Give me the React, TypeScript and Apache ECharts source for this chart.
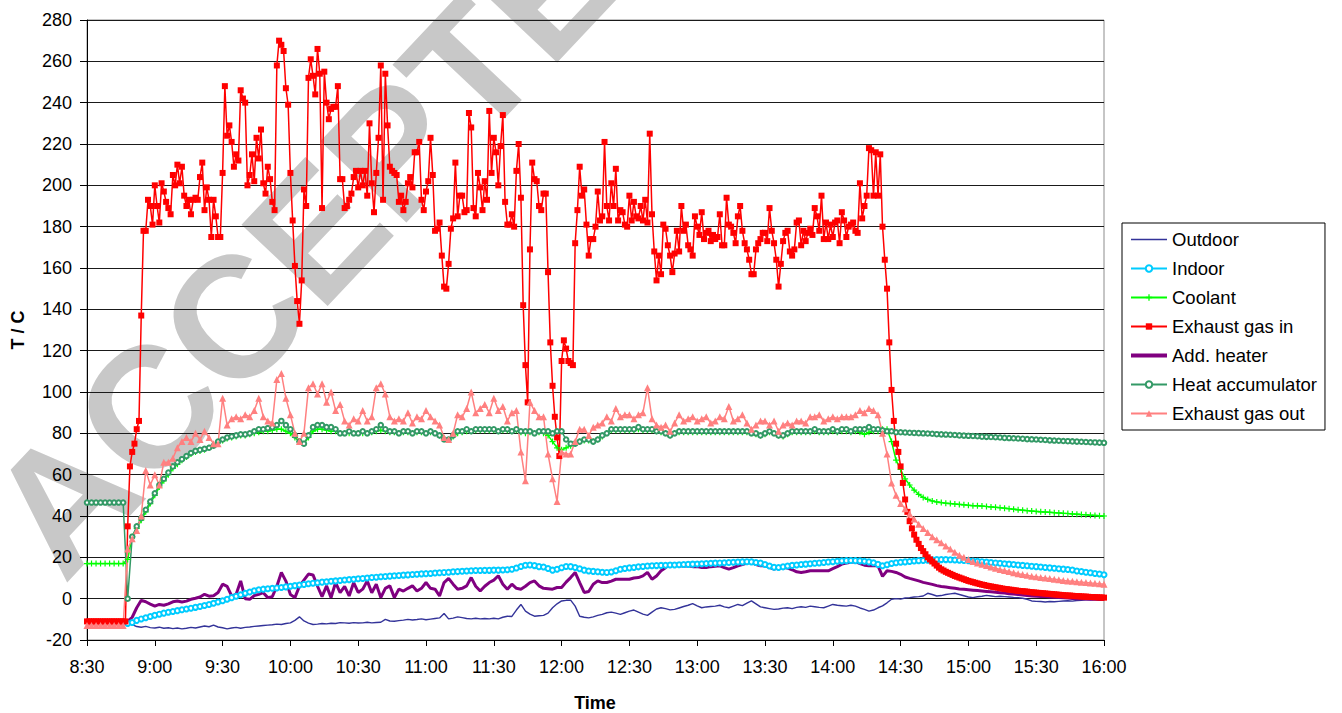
import React, { useEffect, useRef } from "react";
import * as echarts from "echarts";

// minutes after 8:30; x ticks every 30 minutes
const X_MIN = 0;
const X_MAX = 450;
const X_STEP = 30;
const Y_MIN = -20;
const Y_MAX = 280;
const Y_STEP = 20;

// Exhaust gas in: one reading per minute from 8:30
const exhaustInStart = 0;
const exhaustInStep = 1;
const exhaustIn = [
  /* 8:30 */ -11, -11, -11, -11, -11, -11, -11, -11, -11, -11,
  /* 8:40 */ -11, -11, -11, -11, -11, -11, -11, -11, 35, 64,
  /* 8:50 */ 71, 75, 82, 86, 137, 178, 178, 193, 190, 181,
  /* 9:00 */ 200, 190, 182, 201, 197, 192, 189, 186, 205, 200,
  /* 9:10 */ 210, 201, 209, 195, 190, 193, 186, 193, 194, 193,
  /* 9:20 */ 204, 211, 188, 199, 193, 175, 193, 185, 175, 175,
  /* 9:30 */ 206, 248, 224, 229, 221, 209, 215, 212, 246, 242,
  /* 9:40 */ 240, 200, 205, 215, 202, 223, 213, 227, 201, 196,
  /* 9:50 */ 209, 203, 192, 188, 258, 270, 268, 265, 247, 239,
  /* 10:00 */ 206, 183, 161, 144, 133, 154, 198, 190, 252, 261,
  /* 10:10 */ 253, 244, 266, 254, 189, 255, 240, 232, 237, 238,
  /* 10:20 */ 238, 248, 203, 203, 189, 190, 193, 196, 204, 207,
  /* 10:30 */ 199, 207, 200, 207, 195, 230, 201, 187, 206, 223,
  /* 10:40 */ 258, 193, 254, 229, 209, 207, 206, 205, 192, 195,
  /* 10:50 */ 188, 192, 201, 204, 199, 216, 216, 221, 193, 188,
  /* 11:00 */ 197, 202, 223, 205, 178, 179, 182, 166, 151, 150,
  /* 11:10 */ 162, 179, 184, 211, 185, 195, 195, 187, 188, 235,
  /* 11:20 */ 228, 189, 185, 206, 199, 188, 202, 193, 236, 206,
  /* 11:30 */ 223, 216, 200, 219, 234, 192, 181, 181, 186, 180,
  /* 11:40 */ 207, 220, 194, 142, 113, 95, 169, 211, 203, 202,
  /* 11:50 */ 190, 188, 196, 196, 158, 124, 103, 88, 78, 69,
  /* 12:00 */ 115, 125, 121, 115, 114, 113, 172, 188, 209, 195,
  /* 12:10 */ 198, 181, 166, 174, 174, 180, 197, 183, 185, 221,
  /* 12:20 */ 190, 183, 201, 190, 208, 183, 188, 187, 181, 180,
  /* 12:30 */ 195, 183, 192, 185, 184, 190, 183, 193, 182, 225,
  /* 12:40 */ 186, 168, 154, 166, 157, 181, 179, 171, 166, 158,
  /* 12:50 */ 167, 178, 168, 190, 178, 181, 171, 169, 166, 185,
  /* 13:00 */ 180, 176, 187, 174, 177, 178, 173, 176, 174, 175,
  /* 13:10 */ 186, 171, 171, 194, 181, 180, 177, 172, 185, 190,
  /* 13:20 */ 178, 172, 169, 164, 157, 157, 169, 172, 174, 177,
  /* 13:30 */ 177, 173, 189, 178, 172, 164, 151, 162, 173, 177,
  /* 13:40 */ 178, 168, 166, 169, 182, 183, 171, 178, 173, 177,
  /* 13:50 */ 179, 176, 189, 185, 178, 195, 174, 182, 174, 181,
  /* 14:00 */ 175, 182, 183, 172, 187, 183, 175, 180, 181, 182,
  /* 14:10 */ 178, 177, 201, 184, 190, 195, 218, 217, 195, 216,
  /* 14:20 */ 195, 215, 180, 164, 150, 124, 101, 86, 75, 71,
  /* 14:30 */ 64, 56, 48, 42, 37.5, 34, 31, 28.5, 26.5, 24.5,
  /* 14:40 */ 23, 21.5, 20, 19, 18, 17, 16, 15, 14.2, 13.6,
  /* 14:50 */ 13, 12.5, 12, 11.5, 11, 10.6, 10.2, 9.8, 9.4, 9,
  /* 15:00 */ 8.6, 8.3, 8, 7.7, 7.4, 7.1, 6.8, 6.6, 6.3, 6.1,
  /* 15:10 */ 5.9, 5.7, 5.5, 5.3, 5.1, 4.9, 4.7, 4.6, 4.4, 4.3,
  /* 15:20 */ 4.1, 4, 3.8, 3.7, 3.6, 3.5, 3.4, 3.2, 3.1, 3,
  /* 15:30 */ 2.9, 2.8, 2.7, 2.6, 2.5, 2.4, 2.3, 2.2, 2.1, 2,
  /* 15:40 */ 1.9, 1.8, 1.7, 1.6, 1.5, 1.5, 1.4, 1.3, 1.2, 1.2,
  /* 15:50 */ 1.1, 1, 1, 0.9, 0.8, 0.8, 0.7, 0.7, 0.6, 0.6,
  /* 16:00 */ 0.5,
];

// Exhaust gas out: every 2 minutes from 8:30
const exhaustOutStart = 0;
const exhaustOutStep = 2;
const exhaustOut = [
  /* 8:30 */ -13, -13, -13, -13, -13, -13, -13, -13, -13, 24,
  /* 8:50 */ 29, 33, 40, 62, 55, 60, 55, 66, 66, 68,
  /* 9:10 */ 73, 76, 78, 76, 80, 77, 81, 78, 75, 75,
  /* 9:30 */ 97, 84, 87, 88, 87, 89, 88, 91, 97, 88,
  /* 9:50 */ 86, 85, 106, 109, 97, 89, 80, 76, 80, 102,
  /* 10:10 */ 104, 99, 104, 95, 100, 91, 94, 86, 84, 87,
  /* 10:30 */ 86, 91, 86, 88, 102, 104, 99, 88, 86, 87,
  /* 10:50 */ 86, 90, 85, 88, 87, 91, 88, 86, 84, 78,
  /* 11:10 */ 77, 80, 89, 88, 92, 100, 90, 92, 94, 90,
  /* 11:30 */ 97, 91, 93, 86, 90, 91, 71, 57, 95, 91,
  /* 11:50 */ 88, 88, 70, 58, 47, 71, 70, 70, 76, 82,
  /* 12:10 */ 82, 79, 83, 84, 85, 88, 86, 92, 88, 89,
  /* 12:30 */ 89, 87, 89, 90, 102, 87, 84, 83, 84, 81,
  /* 12:50 */ 85, 89, 86, 87, 88, 86, 87, 88, 85, 86,
  /* 13:10 */ 88, 87, 93, 86, 87, 89, 85, 82, 84, 86,
  /* 13:30 */ 86, 84, 86, 81, 84, 85, 84, 86, 86, 85,
  /* 13:50 */ 88, 88, 89, 86, 87, 88, 87, 88, 88, 88,
  /* 14:10 */ 89, 91, 90, 92, 91, 89, 80, 70, 56, 50,
  /* 14:30 */ 46, 43.5, 41, 38.5, 36, 34, 32, 30, 28.5, 27,
  /* 14:50 */ 25.5, 24, 22.5, 21, 20, 19, 18, 17.3, 16.6, 16,
  /* 15:10 */ 15.3, 14.7, 14.1, 13.6, 13.1, 12.6, 12.1, 11.7, 11.3, 10.9,
  /* 15:30 */ 10.6, 10.3, 10, 9.7, 9.4, 9.1, 8.8, 8.6, 8.4, 8.2,
  /* 15:50 */ 8, 7.8, 7.6, 7.4, 7.2, 7,
];

// Heat accumulator: every 2 minutes from 8:30
const heatAccStart = 0;
const heatAccStep = 2;
const heatAccumulator = [
  /* 8:30 */ 46.5, 46.5, 46.5, 46.5, 46.5, 46.5, 46.5, 46.5, 46.5, 0,
  /* 8:50 */ 30, 35, 39, 43, 47, 51, 55, 58, 61, 64,
  /* 9:10 */ 66, 67.5, 69, 70.5, 71.5, 72, 72.5, 73, 74, 76,
  /* 9:30 */ 77, 78, 78.5, 79, 79.5, 79.5, 80, 81, 82, 82,
  /* 9:50 */ 82.5, 83, 84, 86, 84, 82, 79, 76, 75, 79,
  /* 10:10 */ 83, 84, 84, 83, 83, 82, 80, 80, 81, 80,
  /* 10:30 */ 80, 81, 80, 81, 82, 84, 82, 81, 81, 80,
  /* 10:50 */ 81, 81, 80, 81, 81, 80, 81, 80, 79, 77,
  /* 11:10 */ 77, 79, 81, 81, 82, 81, 82, 82, 82, 82,
  /* 11:30 */ 82, 81, 82, 82, 81, 82, 81, 81, 81, 80,
  /* 11:50 */ 81, 81, 81, 80, 81, 81, 77, 75, 75, 76,
  /* 12:10 */ 77, 77, 76, 77, 79, 80, 82, 82, 82, 82,
  /* 12:30 */ 82, 82, 83, 82, 82, 82, 81, 81, 80, 79,
  /* 12:50 */ 80, 81, 81, 81, 81, 81, 81, 81, 81, 81,
  /* 13:10 */ 81, 81, 81, 81, 81, 81, 81, 80, 80, 79,
  /* 13:30 */ 80, 81, 80, 79, 79, 80, 81, 81, 81, 81,
  /* 13:50 */ 81, 82, 81, 81, 81, 82, 81, 82, 82, 81,
  /* 14:10 */ 82, 82, 82, 83, 82, 82, 81.5, 81, 81, 80.5,
  /* 14:30 */ 80.5, 80.4, 80.3, 80.2, 80.1, 80, 79.9, 79.8, 79.6, 79.5,
  /* 14:50 */ 79.4, 79.3, 79.2, 79, 78.9, 78.8, 78.7, 78.6, 78.4, 78.3,
  /* 15:10 */ 78.2, 78.1, 78, 77.8, 77.7, 77.6, 77.5, 77.4, 77.2, 77.1,
  /* 15:30 */ 77, 76.9, 76.8, 76.6, 76.5, 76.4, 76.3, 76.2, 76.1, 76,
  /* 15:50 */ 75.9, 75.8, 75.7, 75.6, 75.5, 75.4,
];

// Coolant: every 2 minutes from 8:30
const coolantStart = 0;
const coolantStep = 2;
const coolant = [
  /* 8:30 */ 17, 17, 17, 17, 17, 17, 17, 17, 17, 19,
  /* 8:50 */ 30, 34, 38, 42, 46, 50, 54, 57, 60, 63,
  /* 9:10 */ 65, 67, 68.5, 70, 71, 71.5, 72, 73, 74, 75.5,
  /* 9:30 */ 76.5, 77.5, 78, 78.5, 79, 79, 79.5, 80, 80.5, 81,
  /* 9:50 */ 81, 81.5, 82, 82, 81, 80, 78, 76, 75, 78,
  /* 10:10 */ 81, 82, 82, 81.5, 81, 81, 80, 80, 80, 80,
  /* 10:30 */ 80, 80, 80, 80.5, 81, 81.5, 81, 80.5, 80.5, 80,
  /* 10:50 */ 80.5, 80.5, 80, 80.5, 80.5, 80, 80.5, 80, 79, 77.5,
  /* 11:10 */ 77, 78.5, 80, 80.5, 81, 81, 81.5, 81.5, 81.5, 81.5,
  /* 11:30 */ 81.5, 81, 81.5, 81.5, 81, 81.5, 80.5, 80, 80.5, 80,
  /* 11:50 */ 80.5, 80, 79, 76, 73, 72, 73, 74, 75, 76,
  /* 12:10 */ 76.5, 76.5, 76, 77, 78.5, 80, 81.5, 81.5, 81.5, 81.5,
  /* 12:30 */ 81.5, 81.5, 82, 81.5, 81.5, 81.5, 81, 80.5, 80, 79,
  /* 12:50 */ 80, 80.5, 80.5, 80.5, 80.5, 80.5, 80.5, 80.5, 80.5, 80.5,
  /* 13:10 */ 80.5, 80.5, 80.5, 80.5, 80.5, 80.5, 80.5, 80, 79.5, 79,
  /* 13:30 */ 79.5, 80.5, 80, 79, 78.5, 79.5, 80.5, 80.5, 80.5, 80.5,
  /* 13:50 */ 80.5, 81, 80.5, 80.5, 80.5, 81, 80.5, 81, 81, 80.5,
  /* 14:10 */ 81, 80.5, 79.5, 80.5, 81, 81, 82, 82, 76, 67,
  /* 14:30 */ 62.5, 58, 55, 52.5, 50.5, 49, 48, 47.3, 46.8, 46.5,
  /* 14:50 */ 46.2, 46, 45.8, 45.6, 45.4, 45.2, 45, 44.9, 44.8, 44.6,
  /* 15:10 */ 44.4, 44.2, 44, 43.8, 43.5, 43.3, 43, 42.8, 42.6, 42.4,
  /* 15:30 */ 42.2, 42, 41.9, 41.8, 41.6, 41.5, 41.3, 41.2, 41, 40.9,
  /* 15:50 */ 40.7, 40.6, 40.4, 40.3, 40.1, 40,
];

// Indoor: every 2 minutes from 8:48
const indoorStart = 18;
const indoorStep = 2;
const indoor = [
  /* 8:48 */ -12, -11.5, -10.5, -9.8, -9.2, -8.6, -8, -7.5, -7, -6.6,
  /* 9:08 */ -6.2, -5.8, -5.4, -5, -4.6, -4.2, -3.8, -3.3, -2.8, -2.2,
  /* 9:28 */ -1.6, -1, -0.3, 0.5, 1.2, 1.9, 2.6, 3.2, 3.8, 4.3,
  /* 9:48 */ 4.6, 4.8, 5, 5.2, 5.4, 5.7, 6, 6.3, 6.6, 6.9,
  /* 10:08 */ 7.2, 7.5, 7.7, 8, 8.2, 8.4, 8.6, 8.8, 9, 9.2,
  /* 10:28 */ 9.4, 9.6, 9.8, 10, 10.2, 10.4, 10.6, 10.7, 10.9, 11.1,
  /* 10:48 */ 11.2, 11.4, 11.5, 11.7, 11.8, 12, 12.1, 12.2, 12.4, 12.5,
  /* 11:08 */ 12.7, 12.8, 13, 13.1, 13.3, 13.4, 13.5, 13.6, 13.6, 13.7,
  /* 11:28 */ 13.7, 13.8, 13.8, 13.9, 14, 14.2, 14.8, 15.6, 16.2, 16.3,
  /* 11:48 */ 16, 15.5, 15.3, 14.6, 13.8, 14.2, 15, 15.6, 15.5, 15.1,
  /* 12:08 */ 14.5, 13.8, 13.4, 13.2, 13, 12.8, 12.7, 12.9, 13.5, 14.2,
  /* 12:28 */ 14.6, 14.9, 15.1, 15.4, 15.6, 15.8, 15.9, 16, 16.1, 16.2,
  /* 12:48 */ 16.3, 16.3, 16.4, 16.5, 16.6, 16.7, 16.8, 16.9, 17, 17.1,
  /* 13:08 */ 17.2, 17.3, 17.4, 17.5, 17.6, 17.7, 17.8, 17.9, 17.8, 17.5,
  /* 13:28 */ 17.2, 16.5, 15.8, 15.2, 15.1, 15.4, 15.8, 16.1, 16.3, 16.5,
  /* 13:48 */ 16.7, 16.9, 17.1, 17.3, 17.5, 17.7, 17.9, 18.1, 18.3, 18.4,
  /* 14:08 */ 18.5, 18.4, 18.3, 18.1, 17.8, 17.4, 16.6, 15.9, 16.4, 17,
  /* 14:28 */ 17.4, 17.6, 17.8, 18, 18.2, 18.4, 18.5, 18.6, 18.8, 18.9,
  /* 14:48 */ 18.9, 18.9, 18.8, 18.7, 18.6, 18.5, 18.4, 18.2, 18.1, 17.9,
  /* 15:08 */ 17.7, 17.5, 17.3, 17.1, 16.9, 16.7, 16.5, 16.3, 16.1, 15.9,
  /* 15:28 */ 15.7, 15.5, 15.3, 15.1, 14.9, 14.7, 14.5, 14.3, 14.1, 13.9,
  /* 15:48 */ 13.4, 13.1, 12.8, 12.5, 12.2, 11.9, 11.6,
];

// Outdoor: every 2 minutes from 8:48
const outdoorStart = 18;
const outdoorStep = 2;
const outdoor = [
  /* 8:48 */ -11, -12.5, -13.5, -13.8, -13.4, -14, -14.2, -13.8, -14.3, -14.1,
  /* 9:08 */ -14.5, -14.2, -14.6, -14.3, -13.9, -14.2, -13.7, -13.2, -13.6, -12.8,
  /* 9:28 */ -13.7, -14.1, -14.6, -14.2, -13.9, -14.3, -13.9, -13.7, -13.4, -13.2,
  /* 9:48 */ -13, -12.8, -12.6, -12.3, -12.5, -12, -11.7, -10.5, -8.8, -10.8,
  /* 10:08 */ -11.8, -12.5, -12.3, -12, -12.2, -11.9, -12, -11.6, -11.7, -11.9,
  /* 10:28 */ -11.6, -11.8, -11.7, -11.4, -11.7, -11.5, -11.4, -10, -10.8, -10.9,
  /* 10:48 */ -10.6, -10.4, -10, -10.3, -10.1, -9.8, -10.2, -9.9, -9.6, -9.3,
  /* 11:08 */ -7.2, -9.8, -9.4, -8.8, -9.2, -9.6, -9.8, -9.5, -9.8, -9.6,
  /* 11:28 */ -9.8, -9.5, -9.8, -9, -8.5, -8.6, -5.5, -2.8, -6, -7.5,
  /* 11:48 */ -8.5, -8.3, -8.1, -7, -4.4, -2.5, -1.1, -0.8, -0.7, -3.6,
  /* 12:08 */ -8.5, -9, -9.3, -8.8, -8.1, -7.6, -6.8, -6.5, -7, -7.6,
  /* 12:28 */ -6.8, -6, -5.5, -6.5, -7.5, -8.1, -6.5, -5, -4.4, -4.8,
  /* 12:48 */ -5.4, -5.2, -4.5, -3.8, -3.2, -2.4, -3.5, -4.4, -4, -3.8,
  /* 13:08 */ -3.6, -3.2, -4, -4.4, -3.6, -2.8, -3.4, -2.2, -1.1, -2.5,
  /* 13:28 */ -4, -4.4, -4.8, -5.2, -5, -4.6, -4.4, -4.8, -4.2, -3.9,
  /* 13:48 */ -4.2, -3.6, -3.9, -4.2, -4.4, -3.6, -2.8, -3.2, -3.4, -3.6,
  /* 14:08 */ -3.2, -3.6, -4.5, -5.2, -6, -5.5, -4.4, -3.5, -2, -0.3,
  /* 14:28 */ 0, -0.2, 0.3, 0.5, 0.8, 1, 1.3, 2.6, 2, 1.3,
  /* 14:48 */ 1.5, 2, 2.3, 2.6, 2, 1.4, 0.8, 0.5, 0.9, 1.2,
  /* 15:08 */ 1.6, 1.3, 1, 1.2, 1, 0.8, 0.6, 0.5, 0.2, -0.3,
  /* 15:28 */ -1.1, -1.3, -1.4, -1.6, -1.4, -1.5, -1.3, -1.1, -1, -1.2,
  /* 15:48 */ -0.9, -0.8, -0.6, -0.5, -0.4, -0.3, -0.3,
];

// Add. heater: every 2 minutes from 8:48
const addHeaterStart = 18;
const addHeaterStep = 2;
const addHeater = [
  /* 8:48 */ -11, -9, -4.4, -0.8, -1.5, -2.6, -3.6, -2.8, -3.2, -2.5,
  /* 9:08 */ -1.5, -1.1, -1.6, -1.2, -0.3, 0.2, 0.8, 2.1, 1.2, 1.4,
  /* 9:28 */ 3, 7, 6, 1.3, 2.1, 8.6, 0, -0.3, 1.5, 2.1,
  /* 9:48 */ 2.9, 0.5, 1, 6, 12.7, 8.5, 2, 0.5, 6, 9,
  /* 10:08 */ 11.9, 11.5, 6, 1, 6.2, 0.5, 7.8, 2.9, 6, 1.3,
  /* 10:28 */ 7.8, 3, 4.6, 8.6, 2.9, 7, 0.5, 5, 6.2, 0.5,
  /* 10:48 */ 4.6, 3.7, 5, 6.2, 3.7, 5, 7.8, 5, 4.6, 1.3,
  /* 11:08 */ 7.8, 9.8, 7, 4.6, 5, 6.2, 10.2, 6, 3.7, 6,
  /* 11:28 */ 7.8, 9, 11.1, 7, 4.6, 7, 5, 4.6, 6, 7.8,
  /* 11:48 */ 8.6, 6.2, 5, 4.8, 4.6, 5.4, 5.4, 8, 10.2, 12.7,
  /* 12:08 */ 7.8, 3, 3.5, 7, 8.6, 7.8, 7.8, 8.5, 9.4, 9.4,
  /* 12:28 */ 9.4, 9.4, 10, 10.2, 11, 12.7, 9.4, 11, 13.5, 15,
  /* 12:48 */ 16.7, 16.5, 16, 15.7, 15.9, 15.5, 15.5, 15.1, 15.1, 15.5,
  /* 13:08 */ 15.7, 15.9, 15, 14.3, 15, 15.9, 16.5, 17.2, 17.6, 16.5,
  /* 13:28 */ 15.9, 15.9, 15.2, 14.3, 14.8, 15.1, 14.8, 14, 13, 12.7,
  /* 13:48 */ 13, 13.5, 13.5, 13.5, 13.5, 13.5, 14.5, 15.5, 16.7, 17.2,
  /* 14:08 */ 17.6, 17.9, 17, 16.2, 15.9, 15.9, 15.9, 10.8, 13.5, 13.2,
  /* 14:28 */ 12.7, 11.8, 10.5, 9.8, 9.2, 8.6, 7.9, 7.4, 6.9, 6.3,
  /* 14:48 */ 5.9, 5.6, 5.3, 5, 4.7, 4.5, 4.3, 4.1, 3.9, 3.7,
  /* 15:08 */ 3.5, 3.3, 3.1, 2.9, 2.7, 2.4, 2.2, 2, 1.8, 1.5,
  /* 15:28 */ 1.3, 1.2, 1.1, 1, 0.8, 0.7, 0.6, 0.5, 0.3, 0.1,
  /* 15:48 */ 0, -0.1, -0.2, -0.3, -0.3, -0.4, -0.4,
];

const seriesNames = [
  "Outdoor",
  "Indoor",
  "Coolant",
  "Exhaust gas in",
  "Add. heater",
  "Heat accumulator",
  "Exhaust gas out",
];

const FONT = 'Arial, "Liberation Sans", Helvetica, sans-serif';
const PLUS = "path://M4,0H6V4H10V6H6V10H4V6H0V4H4Z";

function pts(start: number, step: number, vals: number[]) {
  return vals.map((v, i) => [start + i * step, v]);
}

function clock(m: number) {
  const t = 8 * 60 + 30 + m;
  const h = Math.floor(t / 60);
  const mm = t % 60;
  return `${h}:${mm < 10 ? "0" + mm : mm}`;
}

export default function App() {
  const ref = useRef<HTMLDivElement>(null);

  useEffect(() => {
    if (!ref.current) return;
    const chart = echarts.init(ref.current, undefined, { renderer: "svg" });

    const option: any = {
      animation: false,
      backgroundColor: "#ffffff",
      grid: {
        left: 87,
        top: 20,
        right: 238,
        bottom: 73,
        show: true,
        borderColor: "#8c8c8c",
        borderWidth: 1,
        containLabel: false,
        outerBoundsMode: "none",
      },
      xAxis: {
        type: "value",
        min: X_MIN,
        max: X_MAX,
        interval: X_STEP,
        axisLine: { onZero: false, lineStyle: { color: "#000", width: 1 } },
        axisTick: { show: true, length: 6, lineStyle: { color: "#000" } },
        axisLabel: {
          formatter: (v: number) => clock(v),
          fontSize: 18,
          fontFamily: FONT,
          color: "#000",
          margin: 18,
          showMinLabel: true,
          showMaxLabel: true,
        },
        splitLine: { show: false },
      },
      yAxis: {
        type: "value",
        min: Y_MIN,
        max: Y_MAX,
        interval: Y_STEP,
        axisLine: { show: true, lineStyle: { color: "#000", width: 1 } },
        axisTick: { show: true, length: 7, lineStyle: { color: "#000" } },
        axisLabel: {
          fontSize: 18,
          fontFamily: FONT,
          color: "#000",
          margin: 15,
        },
        splitLine: { show: true, lineStyle: { color: "#1a1a1a", width: 1 } },
      },
      legend: {
        orient: "vertical",
        left: 1122,
        top: 223,
        itemWidth: 36,
        itemHeight: 8,
        itemGap: 10,
        padding: [7, 8, 7, 8],
        borderColor: "#000",
        borderWidth: 1,
        backgroundColor: "#fff",
        symbolKeepAspect: true,
        textStyle: { fontSize: 18.5, lineHeight: 18, color: "#000", fontFamily: FONT },
        data: [
          { name: seriesNames[0], icon: "path://M0,0H36V1.6H0Z" },
          { name: seriesNames[1] },
          { name: seriesNames[2] },
          { name: seriesNames[3] },
          { name: seriesNames[4], icon: "path://M0,0H36V4H0Z" },
          { name: seriesNames[5] },
          { name: seriesNames[6] },
        ],
      },
      graphic: [
        {
          type: "text",
          x: 345,
          y: 200,
          rotation: (46.7 * Math.PI) / 180,
          z: -1,
          silent: true,
          style: {
            text: "ACCEPTED",
            font: `bold 172px ${FONT}`,
            fill: "#c8c8c8",
            align: "center",
            verticalAlign: "middle",
            textAlign: "center",
            textVerticalAlign: "middle",
          },
        },
        {
          type: "text",
          x: 18,
          y: 330,
          rotation: Math.PI / 2,
          style: {
            text: "T / C",
            font: `bold 18px ${FONT}`,
            fill: "#000",
            align: "center",
            verticalAlign: "middle",
            textAlign: "center",
            textVerticalAlign: "middle",
          },
        },
        {
          type: "text",
          x: 595,
          y: 703,
          style: {
            text: "Time",
            font: `bold 18px ${FONT}`,
            fill: "#000",
            align: "center",
            verticalAlign: "middle",
            textAlign: "center",
            textVerticalAlign: "middle",
          },
        },
      ],
      series: [
        {
          name: seriesNames[0],
          type: "line",
          data: pts(outdoorStart, outdoorStep, outdoor),
          symbol: "none",
          lineStyle: { color: "#333399", width: 1.4 },
          itemStyle: { color: "#333399" },
        },
        {
          name: seriesNames[1],
          type: "line",
          data: pts(indoorStart, indoorStep, indoor),
          symbol: "emptyCircle",
          symbolSize: 5,
          lineStyle: { color: "#00CCFF", width: 1.5 },
          itemStyle: { color: "#00CCFF", borderColor: "#00CCFF", borderWidth: 1.5 },
        },
        {
          name: seriesNames[2],
          type: "line",
          data: pts(coolantStart, coolantStep, coolant),
          symbol: PLUS,
          symbolSize: 6,
          lineStyle: { color: "#00FF00", width: 1.5 },
          itemStyle: { color: "#00FF00", borderWidth: 0 },
        },
        {
          name: seriesNames[3],
          type: "line",
          data: pts(exhaustInStart, exhaustInStep, exhaustIn),
          symbol: "rect",
          symbolSize: 6,
          lineStyle: { color: "#FF0000", width: 1.5 },
          itemStyle: { color: "#FF0000", borderWidth: 0 },
        },
        {
          name: seriesNames[4],
          type: "line",
          data: pts(addHeaterStart, addHeaterStep, addHeater),
          symbol: "none",
          lineStyle: { color: "#800080", width: 3 },
          itemStyle: { color: "#800080" },
        },
        {
          name: seriesNames[5],
          type: "line",
          data: pts(heatAccStart, heatAccStep, heatAccumulator),
          symbol: "emptyCircle",
          symbolSize: 4.5,
          lineStyle: { color: "#339966", width: 1.5 },
          itemStyle: { color: "#339966", borderColor: "#339966", borderWidth: 1.3 },
        },
        {
          name: seriesNames[6],
          type: "line",
          data: pts(exhaustOutStart, exhaustOutStep, exhaustOut),
          symbol: "triangle",
          symbolSize: 7,
          lineStyle: { color: "#FF8080", width: 1.5 },
          itemStyle: { color: "#FF8080", borderWidth: 0 },
        },
      ],
    };

    chart.setOption(option);
    return () => chart.dispose();
  }, []);

  return (
    <div
      ref={ref}
      style={{ position: "absolute", left: 0, top: 0, width: 1342, height: 713, background: "#fff" }}
    />
  );
}
